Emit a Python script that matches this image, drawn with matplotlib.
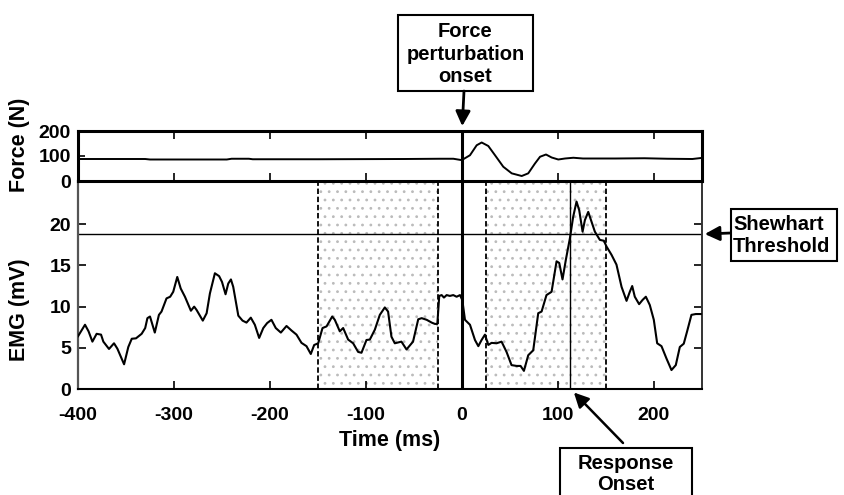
import matplotlib; matplotlib.use("Agg"); import matplotlib.pyplot as plt
from matplotlib.patches import Rectangle

plt.rcParams["font.family"] = ["Liberation Sans", "DejaVu Sans"]
plt.rcParams["font.weight"] = "bold"
plt.rcParams["axes.unicode_minus"] = False
plt.rcParams["hatch.linewidth"] = 0.8

# force trace (N)
F_T = [-400, -330, -325, -320, -245, -240, -222, -218, -150, -60, -22.9, -9, -0.3, 8.3, 15.3, 20.5, 27.4,
       34.4, 43, 51.8, 62.2, 69, 76, 81.3, 87.5, 93.4, 100.3, 107.3, 116, 126, 160, 190, 214, 240, 249]
F_V = [88, 88, 86, 86, 86, 89, 89, 87, 87, 88, 89, 89, 83.5, 103, 143, 154, 140,
       103, 57, 30.6, 20, 30.6, 70, 97, 106, 94, 86, 90, 93, 90, 90, 91, 89, 88, 92]

# EMG envelope (mV)
E_T = [-400, -392.7, -389, -385, -380.6, -376, -373.6, -367.7, -362.5, -359, -352, -347.6, -344, -339.6,
       -333.7, -330, -327.7, -325, -320, -315.7, -313, -307.8, -304, -300.8, -296.6, -293, -288.6, -282.4,
       -279, -276.5, -270, -266, -262.6, -257.4, -253, -250, -246.3, -243.5, -240.7, -238.3, -233, -228.6,
       -224.5, -220, -215.8, -211.3, -207, -203, -198.5, -194, -188.7, -182.8, -177.6, -172.4, -167.2, -162,
       -157.5, -154, -149.8, -145.3, -141.1, -135.2, -132.5, -127.3, -123.8, -118.6, -113.4, -108.2, -104.7,
       -99.5, -96, -90.8, -85.6, -80.4, -77, -73.5, -70, -63.1, -57.8, -51, -45.6, -42, -36.8, -31.6, -28.2,
       -25.7, -23.7, -21.2, -18.8, -16, -12.6, -9.1, -5.6, -2.1, 0.3, 3.1, 8.3, 13.5, 17, 20.4, 23.9, 27.4,
       30.8, 36, 41.2, 46.4, 51.6, 56.9, 61, 64.5, 69, 74.2, 79.4, 82.9, 88, 93.3, 98.5, 101.3, 104.7, 108.2,
       112.4, 115.8, 119.3, 122.1, 125.6, 128, 131.5, 134.9, 138.4, 143.6, 147.8, 150.5, 155.7, 160.9, 166.2,
       171.4, 174.8, 177.3, 180, 184.5, 188, 191.5, 195.6, 199.8, 203.3, 207.8, 213, 218.2, 222.7, 226.9, 231,
       234.5, 239, 243.5, 248.7]
E_V = [6.4, 7.8, 7.0, 5.75, 6.7, 6.6, 5.75, 4.86, 5.55, 4.9, 3.0, 5.1, 6.1, 6.15,
       6.7, 7.4, 8.6, 8.8, 6.85, 9.0, 9.4, 11.0, 11.2, 11.8, 13.6, 12.2, 11.2, 9.5,
       10.0, 9.6, 8.3, 9.2, 11.6, 14.05, 13.7, 13.0, 11.5, 12.8, 13.3, 12.4, 8.9, 8.3,
       8.06, 8.66, 7.8, 6.2, 7.4, 8.0, 8.4, 7.4, 6.85, 7.65, 7.1, 6.6, 5.6, 5.2,
       4.25, 5.34, 5.55, 7.4, 7.6, 8.8, 8.4, 7.0, 7.4, 6.0, 5.55, 4.5, 4.4,
       5.95, 6.0, 7.2, 9.0, 9.9, 9.4, 6.35, 5.55, 5.75, 4.8, 5.75, 8.46, 8.6, 8.4, 8.06, 7.9,
       7.9, 11.3, 11.4, 11.1, 11.4, 11.3, 11.4, 11.2, 11.4, 10.8, 8.4, 7.8, 5.95, 5.2, 5.95, 6.6, 5.35,
       5.6, 5.55, 5.75, 4.5, 2.9, 2.8, 2.8, 2.2, 4.1, 4.7, 9.2, 9.4, 11.4, 11.8, 15.5, 15.3, 13.3, 15.7,
       18.3, 20.9, 22.75, 21.7, 19.1, 20.5, 21.5, 20.3, 19.1, 18.1, 18.0, 17.3, 16.3, 15.1, 12.4,
       10.7, 11.8, 12.5, 11.2, 10.3, 10.8, 11.2, 10.2, 8.4, 5.55, 5.2, 3.7, 2.3, 2.9, 5.1, 5.5,
       7.0, 9.0, 9.1, 9.1]

BASELINE = (-150, -25)     # shaded windows (ms)
RESPONSE = (25, 150)
THRESH = 18.8              # Shewhart threshold (mV)
ONSET_RESP = 113           # response onset (ms)
X_TICKS = [-400, -300, -200, -100, 0, 100, 200]

W, H = 845, 495
TICK_FS, LAB_FS, BOX_FS = 14, 15.5, 14.5
fig = plt.figure(figsize=(W / 100, H / 100), dpi=100)
axf = fig.add_axes([78 / W, 1 - 181 / H, 624 / W, 50 / H])
axe = fig.add_axes([78 / W, 1 - 389 / H, 624 / W, 208 / H])

# force panel
axf.plot(F_T, F_V, color="black", lw=1.4)
axf.axvline(0, color="black", lw=2.2)
axf.set_xlim(-400, 250); axf.set_ylim(0, 200)
axf.set_xticks(X_TICKS); axf.set_xticklabels([])
axf.set_yticks([0, 100, 200])
axf.tick_params(axis="x", direction="in", top=True, bottom=True, length=6, width=1.2)
axf.tick_params(axis="y", direction="in", left=True, right=False, length=5, width=1.2, labelsize=TICK_FS, pad=5)
for s in axf.spines.values():
    s.set_linewidth(2.2)
axf.set_ylabel("Force (N)", fontsize=LAB_FS, fontweight="bold")
axf.yaxis.set_label_coords(-0.077, 0.72)
axf.set_zorder(3)

# EMG panel
for lo, hi in (BASELINE, RESPONSE):
    axe.axvspan(lo, hi, facecolor="white", hatch="..", edgecolor="#bbbbbb", lw=0, zorder=0)
    for xv in (lo, hi):
        axe.axvline(xv, color="black", lw=1.3, ls=(0, (3, 1.5)), zorder=1)
axe.axhline(THRESH, color="black", lw=1.0, zorder=2)
axe.axvline(ONSET_RESP, color="black", lw=1.0, zorder=2)
axe.axvline(0, color="black", lw=2.2, zorder=2)
axe.plot(E_T, E_V, color="black", lw=1.5, zorder=3)
axe.set_xlim(-400, 250); axe.set_ylim(0, 25.25)
axe.set_xticks(X_TICKS)
axe.set_yticks([0, 5, 10, 15, 20])
axe.tick_params(axis="x", direction="in", length=6, width=1.2, labelsize=TICK_FS, pad=13)
axe.tick_params(axis="y", direction="in", left=True, right=True, length=6, width=1.2, labelsize=TICK_FS, pad=5)
axe.spines["top"].set_visible(False)
axe.spines["bottom"].set_linewidth(1.5)
axe.spines["left"].set_color("#555555"); axe.spines["left"].set_linewidth(1.6)
axe.spines["right"].set_color("#333333"); axe.spines["right"].set_linewidth(1.4)
axe.set_ylabel("EMG (mV)", fontsize=LAB_FS, fontweight="bold")
axe.yaxis.set_label_coords(-0.077, 0.38)
axe.set_xlabel("Time (ms)", fontsize=LAB_FS, fontweight="bold")
axe.xaxis.set_label_coords(0.5, -(430 - 389) / 208)
axe.xaxis.label.set_va("top")

# callout boxes (figure pixels, y from top)
def box(x0, y0, x1, y1):
    fig.add_artist(Rectangle((x0 / W, 1 - y1 / H), (x1 - x0) / W, (y1 - y0) / H, transform=fig.transFigure,
                             facecolor="white", edgecolor="black", lw=1.5, clip_on=False))

box(398, 15, 533, 91)
fig.text(465.5 / W, 1 - 54 / H, "Force\nperturbation\nonset", ha="center", va="center",
         fontsize=BOX_FS, fontweight="bold", linespacing=1.22)
box(731, 209, 837, 261)
fig.text(733 / W, 1 - 236 / H, "Shewhart\nThreshold", ha="left", va="center", fontsize=BOX_FS,
         fontweight="bold", linespacing=1.2)
box(560, 448, 692, 510)
fig.text(626 / W, 1 - 474 / H, "Response\nOnset", ha="center", va="center", fontsize=BOX_FS,
         fontweight="bold", linespacing=1.15)

arr = dict(arrowstyle="-|>", color="black", lw=2, mutation_scale=22, shrinkA=0)
axf.annotate("", xy=(0, 200), xycoords="data", xytext=(464, H - 91), textcoords="figure pixels",
             arrowprops=dict(arr, shrinkB=3.5), annotation_clip=False)
axe.annotate("", xy=(250, THRESH), xycoords="data", xytext=(731, H - 233), textcoords="figure pixels",
             arrowprops=dict(arr, shrinkB=2), annotation_clip=False)
axe.annotate("", xy=(ONSET_RESP, 0), xycoords="data", xytext=(623, H - 443), textcoords="figure pixels",
             arrowprops=dict(arr, lw=1.8, shrinkB=3.5), annotation_clip=False)

fig.savefig("out.png", dpi=100)
